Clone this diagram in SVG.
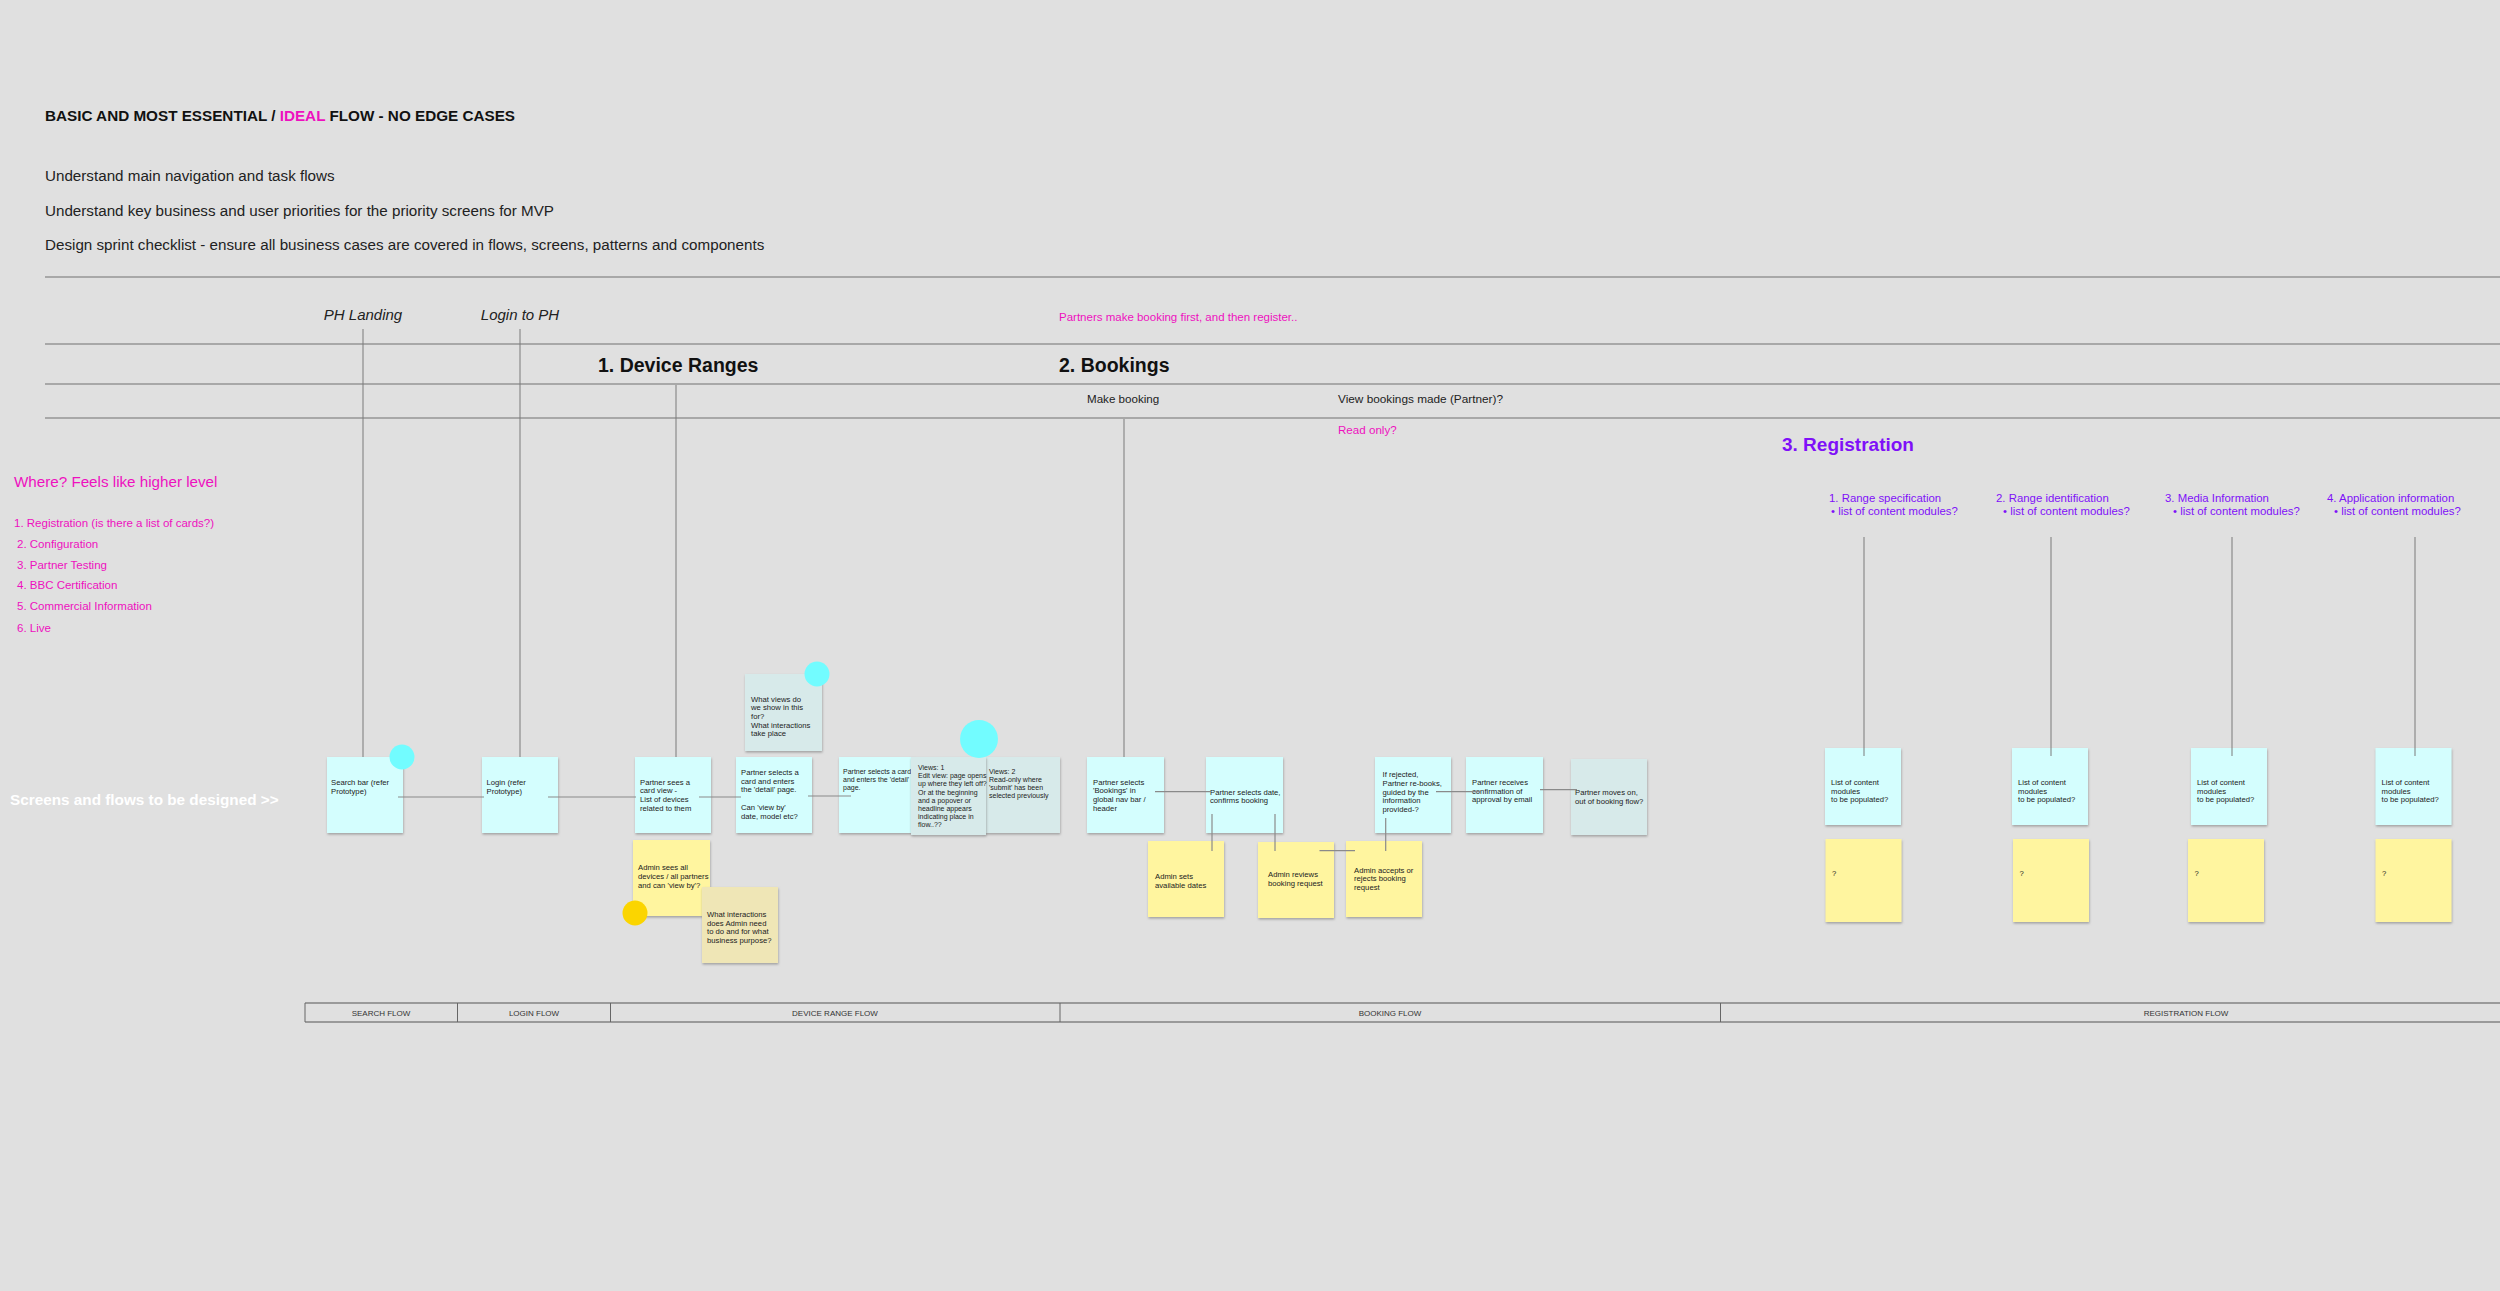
<svg xmlns="http://www.w3.org/2000/svg" width="2500" height="1291" viewBox="0 0 2500 1291">
<style>
text{font-family:"Liberation Sans",Arial,sans-serif;}
.t{font-size:7.7px;fill:#222;}
.s{font-size:7px;}
.note{stroke:none;filter:url(#sh);}
.cy{fill:#d4fefe;}
.gc{fill:#d7eaea;}
.yl{fill:#fff59f;}
.bg{fill:#efe6b6;}
.rule{stroke:#a8a8a8;stroke-width:2;fill:none;}
.vl{stroke:#7a7a7a;stroke-width:1;fill:none;}
.cn{stroke:#8a8a8a;stroke-width:1.2;fill:none;}
.mg{fill:#ee10bf;}
.pu{fill:#7f10f8;}
.bar{stroke:#9a9a9a;stroke-width:2;fill:none;}
.div{stroke:#666;stroke-width:1;}
.fl{font-size:8px;fill:#333;text-anchor:middle;}
</style>
<defs>
<filter id="sh" x="-10%" y="-10%" width="125%" height="125%">
<feDropShadow dx="0.5" dy="1.5" stdDeviation="0.8" flood-color="#777" flood-opacity="0.6"/>
</filter>
</defs>
<rect x="0" y="0" width="2500" height="1291" fill="#e0e0e0"/>

<g id="header">
<text x="45" y="120.5" font-size="15.25" font-weight="bold" fill="#111">BASIC AND MOST ESSENTIAL / <tspan class="mg">IDEAL</tspan> FLOW - NO EDGE CASES</text>
<text x="45" y="181" font-size="15.2" fill="#222">Understand main navigation and task flows</text>
<text x="45" y="215.5" font-size="15.2" fill="#222">Understand key business and user priorities for the priority screens for MVP</text>
<text x="45" y="250" font-size="15.2" fill="#222">Design sprint checklist - ensure all business cases are covered in flows, screens, patterns and components</text>
</g>

<g id="rules">
<line class="rule" x1="45" y1="277" x2="2500" y2="277"/>
<line class="rule" x1="45" y1="344" x2="2500" y2="344"/>
<line class="rule" x1="45" y1="384" x2="2500" y2="384"/>
<line class="rule" x1="45" y1="418" x2="2500" y2="418"/>
</g>

<g id="labels">
<text x="363" y="320" font-size="15" font-style="italic" fill="#222" text-anchor="middle">PH Landing</text>
<text x="520" y="320" font-size="15" font-style="italic" fill="#222" text-anchor="middle">Login to PH</text>
<text class="mg" x="1059" y="321" font-size="11.5">Partners make booking first, and then register..</text>
<text x="598" y="372" font-size="19.5" font-weight="bold" fill="#111">1. Device Ranges</text>
<text x="1059" y="372" font-size="19.5" font-weight="bold" fill="#111">2. Bookings</text>
<text x="1087" y="403" font-size="11.6" fill="#222">Make booking</text>
<text x="1338" y="403" font-size="11.8" fill="#222">View bookings made (Partner)?</text>
<text class="mg" x="1338" y="434" font-size="11.6">Read only?</text>
<text class="pu" x="1782" y="451" font-size="19" font-weight="bold">3. Registration</text>
<text class="pu" x="1829" y="502" font-size="11.4">1. Range specification</text>
<text class="pu" x="1831" y="515" font-size="11.4">•  list of content modules?</text>
<text class="pu" x="1996" y="502" font-size="11.4">2. Range identification</text>
<text class="pu" x="2003" y="515" font-size="11.4">•  list of content modules?</text>
<text class="pu" x="2165" y="502" font-size="11.4">3. Media Information</text>
<text class="pu" x="2173" y="515" font-size="11.4">•  list of content modules?</text>
<text class="pu" x="2327" y="502" font-size="11.4">4. Application information</text>
<text class="pu" x="2334" y="515" font-size="11.4">•  list of content modules?</text>
<text class="mg" x="14" y="487" font-size="15.2">Where? Feels like higher level</text>
<text class="mg" x="14" y="527" font-size="11.5">1. Registration (is there a list of cards?)</text>
<text class="mg" x="17" y="548" font-size="11.5">2. Configuration</text>
<text class="mg" x="17" y="568.7" font-size="11.5">3. Partner Testing</text>
<text class="mg" x="17" y="589.4" font-size="11.5">4. BBC Certification</text>
<text class="mg" x="17" y="610.4" font-size="11.5">5. Commercial Information</text>
<text class="mg" x="17" y="631.7" font-size="11.5">6. Live</text>
<text x="10" y="804.5" font-size="15.3" font-weight="bold" fill="#ffffff">Screens and flows to be designed &gt;&gt;</text>
</g>

<g id="node-search"><rect class="note cy" x="327" y="757" width="76" height="76"/>
<text class="t" x="331" y="785">Search bar (refer</text><text class="t" x="331" y="794">Prototype)</text></g>
<g id="node-login"><rect class="note cy" x="482" y="757" width="76" height="76"/>
<text class="t" x="486.5" y="785">Login (refer</text><text class="t" x="486.5" y="794">Prototype)</text></g>
<g id="node-cardview"><rect class="note cy" x="635" y="757" width="76" height="76"/>
<text class="t" x="640" y="784.5">Partner sees a</text><text class="t" x="640" y="793.2">card view -</text><text class="t" x="640" y="801.9">List of devices</text><text class="t" x="640" y="810.6">related to them</text></g>
<g id="node-detail1"><rect class="note cy" x="736" y="757" width="76" height="76"/>
<text class="t" x="741" y="775">Partner selects a</text><text class="t" x="741" y="783.7">card and enters</text><text class="t" x="741" y="792.4">the 'detail' page.</text><text class="t" x="741" y="809.8">Can 'view by'</text><text class="t" x="741" y="818.5">date, model etc?</text></g>
<g id="node-question"><rect class="note gc" x="745" y="674" width="77" height="77"/>
<text class="t" x="751" y="701.5">What views do</text><text class="t" x="751" y="710.2">we show in this</text><text class="t" x="751" y="718.9">for?</text><text class="t" x="751" y="727.6">What interactions</text><text class="t" x="751" y="736.3">take place</text></g>
<g id="node-detail2"><rect class="note cy" x="839" y="757" width="74" height="76"/>
<text class="t s" x="843" y="773.5">Partner selects a card</text><text class="t s" x="843" y="781.5">and enters the 'detail'</text><text class="t s" x="843" y="789.5">page.</text></g>
<g id="node-views2"><rect class="note gc" x="984" y="757" width="76" height="76"/>
<text class="t s" x="989" y="773.5">Views: 2</text><text class="t s" x="989" y="781.7">Read-only where</text><text class="t s" x="989" y="789.9">'submit' has been</text><text class="t s" x="989" y="798.1">selected previously</text></g>
<g id="node-views1"><rect class="note gc" x="911" y="757" width="75" height="78"/>
<text class="t s" x="918" y="770">Views: 1</text><text class="t s" x="918" y="778.2">Edit view: page opens</text><text class="t s" x="918" y="786.4">up where they left off?</text><text class="t s" x="918" y="794.6">Or at the beginning</text><text class="t s" x="918" y="802.8">and a popover or</text><text class="t s" x="918" y="811">headline appears</text><text class="t s" x="918" y="819.2">indicating place in</text><text class="t s" x="918" y="827.4">flow..??</text></g>
<g id="node-admin-sees"><rect class="note yl" x="633" y="840" width="77" height="76"/>
<text class="t" x="638" y="870">Admin sees all</text><text class="t" x="638" y="878.8">devices / all partners</text><text class="t" x="638" y="887.6">and can 'view by'?</text></g>
<g id="node-admin-q"><rect class="note bg" x="702" y="887" width="76" height="76"/>
<text class="t" x="707" y="917">What interactions</text><text class="t" x="707" y="925.7">does Admin need</text><text class="t" x="707" y="934.4">to do and for what</text><text class="t" x="707" y="943.1">business purpose?</text></g>
<g id="node-bookings"><rect class="note cy" x="1087" y="757" width="77" height="76"/>
<text class="t" x="1093" y="784.5">Partner selects</text><text class="t" x="1093" y="793.2">'Bookings' in</text><text class="t" x="1093" y="801.9">global nav bar /</text><text class="t" x="1093" y="810.6">header</text></g>
<g id="node-date"><rect class="note cy" x="1206" y="757" width="77" height="76"/>
<text class="t" x="1210" y="794.5">Partner selects date,</text><text class="t" x="1210" y="803.2">confirms booking</text></g>
<g id="node-admin-dates"><rect class="note yl" x="1148" y="841" width="76" height="76"/>
<text class="t" x="1155" y="878.8">Admin sets</text><text class="t" x="1155" y="887.5">available dates</text></g>
<g id="node-admin-reviews"><rect class="note yl" x="1258" y="842" width="76" height="76"/>
<text class="t" x="1268" y="876.8">Admin reviews</text><text class="t" x="1268" y="886.2">booking request</text></g>
<g id="node-admin-accepts"><rect class="note yl" x="1346" y="841" width="76" height="76"/>
<text class="t" x="1354" y="872.5">Admin accepts or</text><text class="t" x="1354" y="881">rejects booking</text><text class="t" x="1354" y="889.7">request</text></g>
<g id="node-rebook"><rect class="note cy" x="1375" y="757" width="76" height="76"/>
<text class="t" x="1382.5" y="777">If rejected,</text><text class="t" x="1382.5" y="785.8">Partner re-books,</text><text class="t" x="1382.5" y="794.6">guided by the</text><text class="t" x="1382.5" y="803.4">information</text><text class="t" x="1382.5" y="812.2">provided-?</text></g>
<g id="node-confirm"><rect class="note cy" x="1466" y="757" width="77" height="76"/>
<text class="t" x="1472" y="784.8">Partner receives</text><text class="t" x="1472" y="793.5">confirmation of</text><text class="t" x="1472" y="802.2">approval by email</text></g>
<g id="node-moves-on"><rect class="note gc" x="1571" y="759" width="76" height="76"/>
<text class="t" x="1575" y="795">Partner moves on,</text><text class="t" x="1575" y="803.7">out of booking flow?</text></g>

<g id="node-reg1"><rect class="note cy" x="1825" y="748" width="76" height="77"/>
<text class="t" x="1831" y="784.8">List of content</text><text class="t" x="1831" y="793.5">modules</text><text class="t" x="1831" y="802.2">to be populated?</text></g>
<g id="node-reg2"><rect class="note cy" x="2012" y="748" width="76" height="77"/>
<text class="t" x="2018" y="784.8">List of content</text><text class="t" x="2018" y="793.5">modules</text><text class="t" x="2018" y="802.2">to be populated?</text></g>
<g id="node-reg3"><rect class="note cy" x="2191" y="748" width="76" height="77"/>
<text class="t" x="2197" y="784.8">List of content</text><text class="t" x="2197" y="793.5">modules</text><text class="t" x="2197" y="802.2">to be populated?</text></g>
<g id="node-reg4"><rect class="note cy" x="2375.5" y="748" width="76" height="77"/>
<text class="t" x="2381.5" y="784.8">List of content</text><text class="t" x="2381.5" y="793.5">modules</text><text class="t" x="2381.5" y="802.2">to be populated?</text></g>
<g id="node-reg1q"><rect class="note yl" x="1825.5" y="839" width="76" height="83"/><text class="t" x="1832" y="876">?</text></g>
<g id="node-reg2q"><rect class="note yl" x="2013" y="839" width="76" height="83"/><text class="t" x="2019.5" y="876">?</text></g>
<g id="node-reg3q"><rect class="note yl" x="2188" y="839" width="76" height="83"/><text class="t" x="2194.5" y="876">?</text></g>
<g id="node-reg4q"><rect class="note yl" x="2375.5" y="839" width="76" height="83"/><text class="t" x="2382" y="876">?</text></g>

<g id="connectors">
<line class="vl" x1="363" y1="329" x2="363" y2="757"/>
<line class="vl" x1="520" y1="329" x2="520" y2="757"/>
<line class="vl" x1="676" y1="385" x2="676" y2="757"/>
<line class="vl" x1="1124" y1="419" x2="1124" y2="757"/>
<line class="vl" x1="1864" y1="537" x2="1864" y2="756"/>
<line class="vl" x1="2051" y1="537" x2="2051" y2="756"/>
<line class="vl" x1="2232" y1="537" x2="2232" y2="756"/>
<line class="vl" x1="2415" y1="537" x2="2415" y2="756"/>
<line class="cn" x1="398" y1="797" x2="484" y2="797"/>
<line class="cn" x1="548" y1="797" x2="636" y2="797"/>
<line class="cn" x1="699" y1="797" x2="741" y2="797"/>
<line class="cn" x1="808" y1="796" x2="851" y2="796"/>
<line class="cn" x1="1155" y1="791.7" x2="1211" y2="791.7"/>
<line class="cn" x1="1212" y1="814" x2="1212" y2="851"/>
<line class="cn" x1="1275" y1="814" x2="1275" y2="851"/>
<line class="cn" x1="1319.5" y1="850.7" x2="1355" y2="850.7"/>
<line class="cn" x1="1385.7" y1="818" x2="1385.7" y2="851"/>
<line class="cn" x1="1436" y1="791.7" x2="1481" y2="791.7"/>
<line class="cn" x1="1540" y1="789.7" x2="1577" y2="789.7"/>
</g>

<g id="dots">
<circle cx="402" cy="757" r="12.5" fill="#72fcff"/>
<circle cx="817" cy="674" r="12.5" fill="#72fcff"/>
<circle cx="979" cy="739" r="19" fill="#72fcff"/>
<circle cx="635" cy="913" r="12.5" fill="#fbd500"/>
</g>

<g id="flow-bar">
<line class="bar" x1="305" y1="1003" x2="2500" y2="1003"/>
<line class="bar" x1="305" y1="1022" x2="2500" y2="1022"/>
<line class="div" x1="305" y1="1003" x2="305" y2="1022"/>
<line class="div" x1="457.5" y1="1003" x2="457.5" y2="1022"/>
<line class="div" x1="610.5" y1="1003" x2="610.5" y2="1022"/>
<line class="div" x1="1060" y1="1003" x2="1060" y2="1022"/>
<line class="div" x1="1720.5" y1="1003" x2="1720.5" y2="1022"/>
<text class="fl" x="381" y="1015.5">SEARCH FLOW</text>
<text class="fl" x="534" y="1015.5">LOGIN FLOW</text>
<text class="fl" x="835" y="1015.5">DEVICE RANGE FLOW</text>
<text class="fl" x="1390" y="1015.5">BOOKING FLOW</text>
<text class="fl" x="2186" y="1015.5">REGISTRATION FLOW</text>
</g>
</svg>
